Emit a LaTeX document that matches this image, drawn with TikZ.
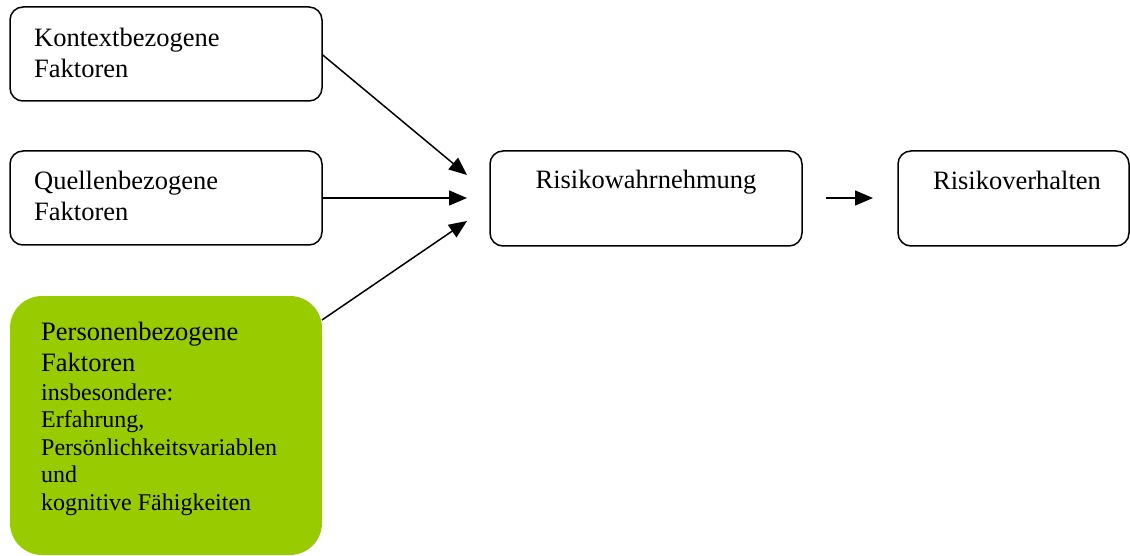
\documentclass[tikz,border=0pt]{standalone}
\usepackage{fontspec}
\setmainfont{Liberation Serif}
\usetikzlibrary{arrows.meta}
\definecolor{boxgreen}{RGB}{153,204,0}
\tikzset{
  box/.style={draw=black, line width=1.5pt, rounded corners=13pt, fill=white, inner sep=0pt},
  greenbox/.style={fill=boxgreen, draw=none, rounded corners=32pt, inner sep=0pt},
  big/.style={font=\fontsize{26.5}{31}\selectfont, inner sep=0pt, anchor=base west},
  small/.style={font=\fontsize{24}{28}\selectfont, inner sep=0pt, anchor=base west},
  conn/.style={line width=1.5pt, -{Triangle[length=18pt,width=15pt]}}
}
\begin{document}
\begin{tikzpicture}[x=1pt,y=-1pt]
\useasboundingbox (0,0) rectangle (1130,556);
% boxes
\node[box, minimum width=312pt, minimum height=94pt] (k) at (166,54) {};
\node[box, minimum width=312pt, minimum height=94pt] (q) at (166,198) {};
\node[greenbox, minimum width=312pt, minimum height=259pt] (p) at (166,425.5) {};
\node[box, minimum width=312pt, minimum height=95pt] (rw) at (646,198.5) {};
\node[box, minimum width=231pt, minimum height=95pt] (rv) at (1013.5,198.5) {};
% texts
\node[big] (k1) at (34,47) {Kontextbezogene};
\node[big] (k2) at (34,78) {Faktoren};
\node[big] (q1) at (34,190) {Quellenbezogene};
\node[big] (q2) at (34,221) {Faktoren};
\node[big] (p1) at (41,340) {Personenbezogene};
\node[big] (p2) at (41,371) {Faktoren};
\node[small] (p3) at (41,400) {insbesondere:};
\node[small] (p4) at (41,427) {Erfahrung,};
\node[small] (p5) at (41,455) {Persönlichkeitsvariablen};
\node[small] (p6) at (41,482) {und};
\node[small] (p7) at (41,510) {kognitive Fähigkeiten};
\node[big, anchor=base] (rwt) at (646,189) {Risikowahrnehmung};
\node[big, anchor=base] (rvt) at (1017,190) {Risikoverhalten};
% connector ends
\coordinate (e1) at (467,175);
\coordinate (e2) at (467,198);
\coordinate (e3) at (467,221);
\coordinate (s3) at (322,320);
\coordinate (s4) at (826,198);
\coordinate (e4) at (873,198);
% connectors
\draw[conn] ([yshift=-1pt]k.east) -- (e1);
\draw[conn] (q.east) -- (e2);
\draw[conn] (s3) -- (e3);
\draw[conn] (s4) -- (e4);
\end{tikzpicture}
\end{document}
